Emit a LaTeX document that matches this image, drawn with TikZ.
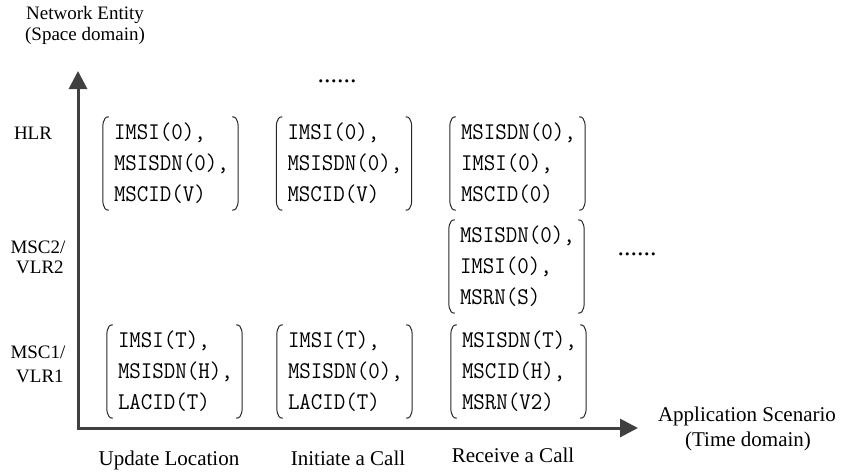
\documentclass[tikz,border=0pt]{standalone}
\usepackage{fontspec}
\setmainfont{Liberation Serif}
\newfontfamily\codefont[FakeStretch=0.93]{Latin Modern Mono}
\usetikzlibrary{arrows.meta}
\begin{document}
\begin{tikzpicture}[x=1pt,y=-1pt,
  lab/.style={font=\fontsize{19}{22}\selectfont, anchor=base, inner sep=0pt},
  scen/.style={font=\fontsize{21}{24}\selectfont, anchor=base, inner sep=0pt},
  dots/.style={font=\fontsize{26}{28}\selectfont, anchor=base, inner sep=0pt},
  mat/.style={font=\codefont\fontsize{24}{31}\selectfont, align=left, text width=113pt,
              inner xsep=11pt, inner ysep=0pt, minimum height=93pt},
  paren/.style={line width=1pt, draw=black!85},
  axis/.style={line width=3pt, draw=black!75, line join=miter,
               {Triangle[length=18pt,width=18pt,fill=black!75]}-{Triangle[length=18pt,width=18pt,fill=black!75]}}]
\useasboundingbox (0,0) rectangle (841,474);

% axes
\coordinate (O) at (78,428);
\coordinate (ytip) at (78,71);
\coordinate (xtip) at (638,428);
\draw[axis] (ytip) -- (O) -- (xtip);

% axis titles
\node[lab] (ne1) at (85,19.5) {Network Entity};
\node[lab] (ne2) at (85,40) {(Space domain)};
\node[scen] (as1) at (747,421) {Application Scenario};
\node[scen] (as2) at (748,446) {(Time domain)};

% row labels
\node[lab] (hlr) at (33,139) {HLR};
\node[lab] (msc2a) at (38,253) {MSC2/};
\node[lab] (msc2b) at (40,273) {VLR2};
\node[lab] (msc1a) at (38,358) {MSC1/};
\node[lab] (msc1b) at (40,382) {VLR1};

% column labels
\node[scen] (c1) at (169,465) {Update Location};
\node[scen] (c2) at (348,465) {Initiate a Call};
\node[scen] (c3) at (513,462) {Receive a Call};

% ellipses
\node[dots] (d1) at (337,82) {......};
\node[dots] (d2) at (637,255) {......};

% matrices
\node[mat] (m11) at (170.5,163.5) {IMSI(0),\\MSISDN(0),\\MSCID(V)};
\node[mat] (m12) at (344,163.5) {IMSI(0),\\MSISDN(0),\\MSCID(V)};
\node[mat] (m13) at (517.5,163.5) {MSISDN(0),\\IMSI(0),\\MSCID(0)};
\node[mat] (m23) at (516.5,266.5) {MSISDN(0),\\IMSI(0),\\MSRN(S)};
\node[mat] (m31) at (174.5,371.5) {IMSI(T),\\MSISDN(H),\\LACID(T)};
\node[mat] (m32) at (344.5,371.5) {IMSI(T),\\MSISDN(0),\\LACID(T)};
\node[mat] (m33) at (518.5,371.5) {MSISDN(T),\\MSCID(H),\\MSRN(V2)};

\foreach \n in {m11,m12,m13,m23,m31,m32,m33}{
  \draw[paren] ([xshift=6pt]\n.north west) to[out=180,in=90] ([yshift=-16pt]\n.north west)
     -- ([yshift=16pt]\n.south west) to[out=-90,in=180] ([xshift=6pt]\n.south west);
  \draw[paren] ([xshift=-6pt]\n.north east) to[out=0,in=90] ([yshift=-16pt]\n.north east)
     -- ([yshift=16pt]\n.south east) to[out=-90,in=0] ([xshift=-6pt]\n.south east);
}
\end{tikzpicture}
\end{document}
